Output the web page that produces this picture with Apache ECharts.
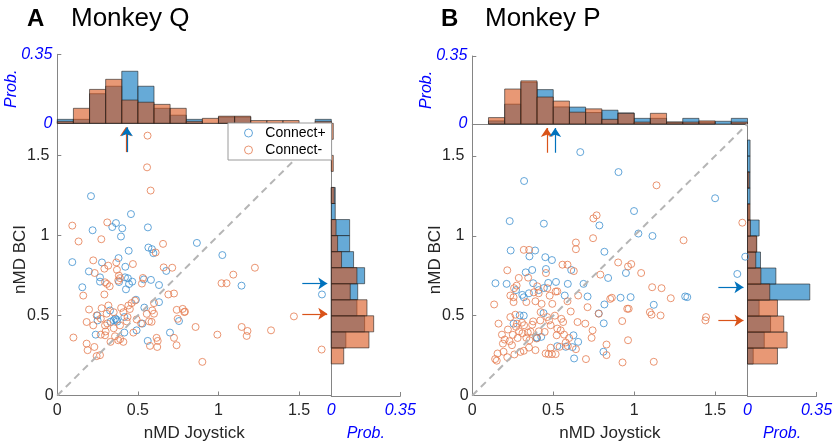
<!DOCTYPE html>
<html><head><meta charset="utf-8">
<script src="https://cdn.jsdelivr.net/npm/echarts@6/dist/echarts.min.js"></script>
<style>html,body{margin:0;padding:0;background:#fff}#c{width:837px;height:447px}</style>
</head><body><div id="c"></div>
<script>
// ---------- data ----------
const binEdges = [0,0.1,0.2,0.3,0.4,0.5,0.6,0.7,0.8,0.9,1.0,1.1,1.2,1.3,1.4,1.5,1.6,1.7];
const scatterTicks = [0,0.5,1,1.5];
const probTicks = [0,0.35];

// Monkey Q (panel A)
const scatterA_plus = [[0.209,1.245],[0.457,1.133],[0.364,1.077],[0.341,1.052],[0.403,1.044],[0.219,1.032],[0.562,1.05],[0.395,0.993],[0.866,0.953],[0.565,0.924],[0.587,0.914],[0.596,0.889],[0.443,0.904],[1.024,0.877],[0.38,0.858],[0.093,0.833],[0.277,0.831],[0.422,0.804],[0.196,0.775],[0.676,0.778],[0.42,0.738],[0.265,0.738],[0.465,0.711],[0.581,0.722],[0.537,0.725],[0.438,0.732],[0.383,0.709],[0.445,0.696],[0.631,0.69],[1.143,0.686],[0.155,0.676],[0.426,0.663],[0.265,0.711],[0.488,0.598],[1.642,0.631],[0.631,0.583],[0.54,0.549],[0.327,0.531],[0.368,0.473],[0.416,0.49],[0.249,0.5],[0.25,0.469],[0.238,0.38],[0.33,0.46],[0.35,0.47],[0.36,0.48],[0.372,0.462],[0.416,0.393],[0.492,0.407],[0.528,0.449],[0.561,0.341],[0.699,0.393],[0.755,0.465]];
const scatterA_minus = [[0.56,1.623],[0.557,1.425],[0.579,1.28],[0.093,1.061],[0.31,1.081],[0.273,0.976],[0.132,0.962],[0.656,0.947],[0.61,0.893],[0.223,0.844],[0.366,0.831],[0.469,0.821],[0.316,0.811],[0.292,0.792],[0.66,0.8],[0.713,0.798],[1.226,0.798],[0.232,0.765],[0.37,0.785],[0.382,0.749],[0.531,0.734],[1.092,0.755],[0.296,0.707],[0.378,0.718],[0.525,0.699],[1.019,0.701],[1.05,0.701],[0.308,0.697],[0.325,0.682],[0.161,0.624],[0.292,0.631],[0.689,0.631],[0.724,0.637],[0.389,0.733],
[0.482,0.593],[0.6,0.577],[0.461,0.577],[0.441,0.562],[0.317,0.562],[0.275,0.545],[0.197,0.537],[0.589,0.531],[0.778,0.541],[0.792,0.524],[0.741,0.535],[0.396,0.547],[0.244,0.5],[0.306,0.511],[0.436,0.49],[0.6,0.511],[0.182,0.459],[0.223,0.438],[0.1,0.362],[0.296,0.438],[0.389,0.438],[0.43,0.463],[0.492,0.475],[0.569,0.463],[0.585,0.46],[0.555,0.51],[0.472,0.393],[0.616,0.36],[0.623,0.341],[0.575,0.31],[0.62,0.303],[0.724,0.36],[0.74,0.314],[0.747,0.479],[0.788,0.521],[0.858,0.428],[0.993,0.38],[0.9,0.21],[1.144,0.428],[1.18,0.403],[1.175,0.372],[1.326,0.407],[1.468,0.494],[1.64,0.287],[0.182,0.324],[0.188,0.283],[0.23,0.303],[0.244,0.246],[0.265,0.252],[0.296,0.376],[0.33,0.335],[0.358,0.37],[0.378,0.345],[0.39,0.352],[0.41,0.335],[0.35,0.42],[0.31,0.45],[0.27,0.48],[0.35,0.52],[0.41,0.52],[0.45,0.54],[0.52,0.45],[0.3,0.4],[0.27,0.38]];
const histTopA_plus  = [0.02,0.02,0.15,0.188,0.264,0.188,0.076,0.041,0.02,0,0.032,0.032,0,0,0,0,0.02];
const histTopA_minus = [0.01,0.076,0.172,0.223,0.118,0.107,0.096,0.076,0.01,0.025,0.036,0.036,0.014,0.014,0.014,0,0.01];
const histRightA_plus  = [0,0,0,0.074,0.169,0.13,0.134,0.169,0.113,0.093,0.093,0.02,0.02,0,0,0,0];
const histRightA_minus = [0,0,0.063,0.191,0.215,0.181,0.096,0.13,0.052,0.032,0.024,0,0.015,0,0.01,0,0.01];
const medianA_plus = [0.432,0.70];   // [nMD Joystick, nMD BCI]
const medianA_minus = [0.425,0.51];

// Monkey P (panel B)
const scatterB_plus = [[0.667,1.524],[0.903,1.399],[0.32,1.343],[1.5,1.235],[0.999,1.155],[0.231,1.092],[0.442,1.076],[0.785,1.065],[1.026,1.014],[1.113,0.999],[0.237,0.908],[0.388,0.908],[0.353,0.871],[0.451,0.866],[0.492,0.848],[0.816,0.9],[1.686,0.869],[0.455,0.792],[0.37,0.786],[0.33,0.771],[0.611,0.786],[0.949,0.767],[0.839,0.736],[1.637,0.761],[0.143,0.703],[0.212,0.699],[0.376,0.703],[0.469,0.705],[0.517,0.711],[0.59,0.699],[0.687,0.699],[0.442,0.673],[0.309,0.63],[0.318,0.615],[0.571,0.626],[0.712,0.62],[0.916,0.612],[0.978,0.616],[1.315,0.62],[1.328,0.616],[0.816,0.57],[0.781,0.514],[1.121,0.568],[0.255,0.45],[0.293,0.502],[0.318,0.5],[0.397,0.363],[0.44,0.516],[0.525,0.309],[0.625,0.377],[0.619,0.303],[0.629,0.232],[0.654,0.336],[0.812,0.452],[0.81,0.274],[0.40,0.36],[0.426,0.367],[0.577,0.305],[0.27,0.66],[0.35,0.64],[0.41,0.66]];
const scatterB_minus = [[1.138,1.316],[0.768,1.128],[0.748,1.109],[1.668,1.082],[0.746,0.985],[1.305,0.972],[0.64,0.958],[0.64,0.916],[0.318,0.912],[0.351,0.912],[0.901,0.833],[0.962,0.808],[0.982,0.823],[0.557,0.819],[0.588,0.819],[0.455,0.767],[0.216,0.784],[0.627,0.779],[1.043,0.767],[0.791,0.757],[0.287,0.736],[0.345,0.738],[0.274,0.688],[0.258,0.672],[0.401,0.684],[1.111,0.678],[1.169,0.672],[0.463,0.672],[0.515,0.651],[0.235,0.626],[0.654,0.626],[0.862,0.612],[1.226,0.609],[0.255,0.615],[0.38,0.646],[0.41,0.64],[0.478,0.625],[0.525,0.652],
[0.255,0.585],[0.334,0.585],[0.39,0.59],[0.428,0.574],[0.494,0.574],[0.588,0.59],[0.957,0.543],[0.712,0.553],
[0.135,0.57],[0.162,0.45],[0.183,0.381],[0.189,0.325],[0.193,0.274],[0.156,0.263],[0.141,0.228],[0.151,0.218],[0.22,0.413],[0.23,0.34],[0.245,0.315],[0.26,0.257],[0.307,0.456],[0.289,0.402],[0.334,0.361],[0.343,0.394],[0.353,0.346],[0.376,0.464],[0.397,0.357],[0.39,0.284],[0.318,0.28],[0.422,0.522],[0.463,0.491],[0.447,0.398],[0.484,0.44],[0.484,0.299],[0.453,0.263],[0.471,0.259],[0.492,0.259],[0.515,0.259],[0.525,0.419],[0.546,0.408],[0.561,0.46],[0.567,0.381],[0.54,0.305],[0.577,0.332],[0.65,0.46],[0.64,0.29],[0.702,0.228],[0.698,0.45],[0.743,0.408],[0.737,0.361],[0.781,0.512],[0.829,0.319],[0.829,0.253],[0.852,0.605],[0.926,0.466],[0.962,0.346],[0.928,0.207],[0.966,0.543],[1.097,0.522],[1.107,0.506],[1.163,0.501],[1.121,0.211],[1.444,0.491],[1.44,0.47],
[0.235,0.491],[0.266,0.506],[0.276,0.45],[0.31,0.39],[0.36,0.4],[0.28,0.36],[0.297,0.273],[0.37,0.443],[0.411,0.402],[0.474,0.47],[0.521,0.377],[0.608,0.526],[0.598,0.36],[0.59,0.31],[0.216,0.24],[0.2,0.35],[0.25,0.38],[0.32,0.44],[0.27,0.43],[0.35,0.3],[0.42,0.47],[0.51,0.5],[0.55,0.48]];
const histTopB_plus  = [0,0.016,0.102,0.215,0.177,0.088,0.087,0.059,0.071,0.057,0.029,0.029,0.01,0.029,0.01,0.014,0.029];
const histTopB_minus = [0,0.033,0.18,0.222,0.139,0.118,0.061,0.078,0.024,0.055,0.01,0.055,0.01,0.01,0.016,0,0.01];
const histRightB_plus  = [0,0,0.029,0.085,0.117,0.059,0.316,0.144,0.066,0.045,0.059,0.008,0.013,0.013,0.013,0.013,0];
const histRightB_minus = [0,0,0.152,0.201,0.184,0.152,0.113,0.068,0.042,0.047,0.015,0.013,0,0.008,0,0,0];
const medianB_plus = [0.512,0.678];
const medianB_minus = [0.46,0.47];

const seriesNames = ['Connect+','Connect-'];
const panelTitles = [['A','Monkey Q'],['B','Monkey P']];

// ---------- style ----------
const FONT = "'Liberation Sans', Arial, Helvetica, sans-serif";
const AX = '#858585';
const BLUE = '#0072BD', ORANGE = '#D95319';
const BLUE_M = '#3d90d0', ORANGE_M = '#e57a4f';
const PROBC = '#0000ff';

const L = [
  {sx:57.3, sy:123.3, w:274, h:274, th:69, rw:69},
  {sx:472.3, sy:124, w:275.2, h:273.3, th:68, rw:69}
];

const grids=[], xAxes=[], yAxes=[], series=[];
function binData(vals){ return vals.map((v,i)=>[binEdges[i],binEdges[i+1],v]); }
function vBar(color){
  return function(p, api){
    const x0=api.value(0), x1=api.value(1), v=api.value(2);
    if(!v) return null;
    const a=api.coord([x0,v]), b=api.coord([x1,0]);
    return {type:'rect', shape:{x:a[0],y:a[1],width:b[0]-a[0],height:b[1]-a[1]},
      style:{fill:color, stroke:'#222', lineWidth:1, opacity:0.6}};
  };
}
function hBar(color){
  return function(p, api){
    const y0=api.value(0), y1=api.value(1), v=api.value(2);
    if(!v) return null;
    const a=api.coord([0,y1]), b=api.coord([v,y0]);
    return {type:'rect', shape:{x:a[0],y:a[1],width:b[0]-a[0],height:b[1]-a[1]},
      style:{fill:color, stroke:'#222', lineWidth:1, opacity:0.6}};
  };
}
const probLabel = {fontSize:16, color:PROBC, fontStyle:'italic', fontFamily:FONT};
const probName = {fontSize:16, color:PROBC, fontStyle:'italic', fontFamily:FONT};

const panels = [
  {sp:scatterA_plus, sm:scatterA_minus, tp:histTopA_plus, tm:histTopA_minus, rp:histRightA_plus, rm:histRightA_minus, mp:medianA_plus, mm:medianA_minus},
  {sp:scatterB_plus, sm:scatterB_minus, tp:histTopB_plus, tm:histTopB_minus, rp:histRightB_plus, rm:histRightB_minus, mp:medianB_plus, mm:medianB_minus}
];
const XMAX=1.7, YMAX=1.7, PMAX=0.35;
const arrowStart = 1.52, arrowEnd = 1.675;

panels.forEach((P, k)=>{
  const g=L[k], base=k*3;
  grids.push({left:g.sx, top:g.sy, width:g.w, height:g.h});
  grids.push({left:g.sx, top:g.sy-g.th, width:g.w, height:g.th});
  grids.push({left:g.sx+g.w, top:g.sy, width:g.rw, height:g.h});
  // scatter axes
  xAxes.push({gridIndex:base, type:'value', min:0, max:XMAX,
    axisLine:{show:true,onZero:false,lineStyle:{color:AX}},
    axisTick:{show:true,inside:true,length:4,customValues:scatterTicks,lineStyle:{color:AX}},
    axisLabel:{customValues:scatterTicks, fontSize:16, color:'#262626', fontFamily:FONT, margin:7},
    splitLine:{show:false},
    name:'nMD Joystick', nameLocation:'middle', nameGap:38, nameMoveOverlap:false,
    nameTextStyle:{fontSize:17, color:'#262626', fontFamily:FONT, verticalAlign:'middle'}});
  yAxes.push({gridIndex:base, type:'value', min:0, max:YMAX,
    axisLine:{show:true,onZero:false,lineStyle:{color:AX}},
    axisTick:{show:true,inside:true,length:4,customValues:scatterTicks,lineStyle:{color:AX}},
    axisLabel:{customValues:scatterTicks, fontSize:16, color:'#262626', fontFamily:FONT, margin:8,
      alignMinLabel:'center', verticalAlign:'middle'},
    splitLine:{show:false},
    name:'nMD BCI', nameLocation:'middle', nameGap:28, nameMoveOverlap:false,
    nameTextStyle:{fontSize:17, color:'#262626', fontFamily:FONT}});
  // top hist axes
  xAxes.push({gridIndex:base+1, type:'value', min:0, max:XMAX,
    axisLine:{show:true,onZero:false,lineStyle:{color:AX}}, axisTick:{show:false}, axisLabel:{show:false}, splitLine:{show:false}});
  yAxes.push({gridIndex:base+1, type:'value', min:0, max:PMAX,
    axisLine:{show:true,onZero:false,lineStyle:{color:AX}},
    axisTick:{show:true,inside:true,length:4,customValues:probTicks,lineStyle:{color:AX}},
    axisLabel:Object.assign({customValues:probTicks, margin:5}, probLabel),
    splitLine:{show:false},
    name:'Prob.', nameLocation:'middle', nameGap:38, nameMoveOverlap:false, nameTextStyle:probName});
  // right hist axes
  xAxes.push({gridIndex:base+2, type:'value', min:0, max:PMAX,
    axisLine:{show:true,onZero:false,lineStyle:{color:AX}},
    axisTick:{show:true,inside:true,length:4,customValues:probTicks,lineStyle:{color:AX}},
    axisLabel:Object.assign({customValues:probTicks, margin:7}, probLabel),
    splitLine:{show:false},
    name:'Prob.', nameLocation:'middle', nameGap:38, nameMoveOverlap:false,
    nameTextStyle:Object.assign({verticalAlign:'middle'}, probName)});
  yAxes.push({gridIndex:base+2, type:'value', min:0, max:YMAX,
    axisLine:{show:true,onZero:false,lineStyle:{color:AX}}, axisTick:{show:false}, axisLabel:{show:false}, splitLine:{show:false}});

  // histograms (blue first, orange drawn on top)
  [[P.tp,BLUE,'top+'],[P.tm,ORANGE,'top-']].forEach(([vals,c,n])=>{
    series.push({type:'custom', name:n+k, xAxisIndex:base+1, yAxisIndex:base+1, silent:true,
      encode:{x:[0,1], y:2}, data:binData(vals), renderItem:vBar(c), z:2});
  });
  [[P.rp,BLUE,'right+'],[P.rm,ORANGE,'right-']].forEach(([vals,c,n])=>{
    series.push({type:'custom', name:n+k, xAxisIndex:base+2, yAxisIndex:base+2, silent:true,
      encode:{y:[0,1], x:2}, data:binData(vals), renderItem:hBar(c), z:2});
  });

  // scatter
  const arrows = (m, c)=>({silent:true, symbol:['none','arrow'], symbolSize:9, label:{show:false},
    lineStyle:{color:c, width:1.2, type:'solid'}, emphasis:{disabled:true},
    data:[
      [{coord:[m[0],arrowStart]},{coord:[m[0],arrowEnd]}],
      [{coord:[arrowStart,m[1]]},{coord:[arrowEnd,m[1]]}]
    ]});
  series.push({type:'scatter', name:seriesNames[0], xAxisIndex:base, yAxisIndex:base, clip:false,
    symbol:'circle', symbolSize:7, data:P.sp, z:3,
    itemStyle:{color:'rgba(0,0,0,0)', borderColor:BLUE_M, borderWidth:1},
    emphasis:{disabled:true},
    markLine:{silent:true, symbol:['none','none'], label:{show:false}, emphasis:{disabled:true},
      lineStyle:{color:'#b5b5b5', width:2, type:[7,5]},
      data:[[{coord:[0,0]},{coord:[XMAX,YMAX]}]]}});
  series.push({type:'scatter', name:seriesNames[1], xAxisIndex:base, yAxisIndex:base, clip:false,
    symbol:'circle', symbolSize:7, data:P.sm, z:3,
    itemStyle:{color:'rgba(0,0,0,0)', borderColor:ORANGE_M, borderWidth:1},
    emphasis:{disabled:true}, markLine:arrows(P.mm, ORANGE)});
  // blue arrows drawn on top
  series.push({type:'scatter', name:'median+'+k, xAxisIndex:base, yAxisIndex:base, clip:false,
    data:[], z:4, markLine:arrows(P.mp, BLUE)});
});

const titles=[];
panelTitles.forEach((t,k)=>{
  const x0 = k===0 ? 22 : 436;
  titles.push({text:t[0], left:x0, top:2, textStyle:{fontSize:24, fontWeight:'bold', color:'#000', fontFamily:FONT}});
  titles.push({text:t[1], left:x0+44, top:1, textStyle:{fontSize:26, fontWeight:'normal', color:'#000', fontFamily:FONT}});
});

const option = {
  animation:false,
  backgroundColor:'#fff',
  title:titles,
  grid:grids, xAxis:xAxes, yAxis:yAxes, series:series,
  legend:{
    data:[
      {name:seriesNames[0], icon:'circle', itemStyle:{color:'#fff', borderColor:BLUE_M, borderWidth:1}},
      {name:seriesNames[1], icon:'circle', itemStyle:{color:'#fff', borderColor:ORANGE_M, borderWidth:1}}
    ],
    formatter: n => '  ' + n,
    orient:'vertical', left:228, top:123, itemWidth:8, itemHeight:8, itemGap:3,
    padding:[3,6,3,16], selectedMode:false,
    textStyle:{fontSize:14, color:'#000', fontFamily:FONT},
    backgroundColor:'#fff', borderColor:'#9a9a9a', borderWidth:1, borderRadius:0, z:10
  }
};
const chart = echarts.init(document.getElementById('c'), null, {renderer:'canvas'});
chart.setOption(option);
</script>
</body></html>
